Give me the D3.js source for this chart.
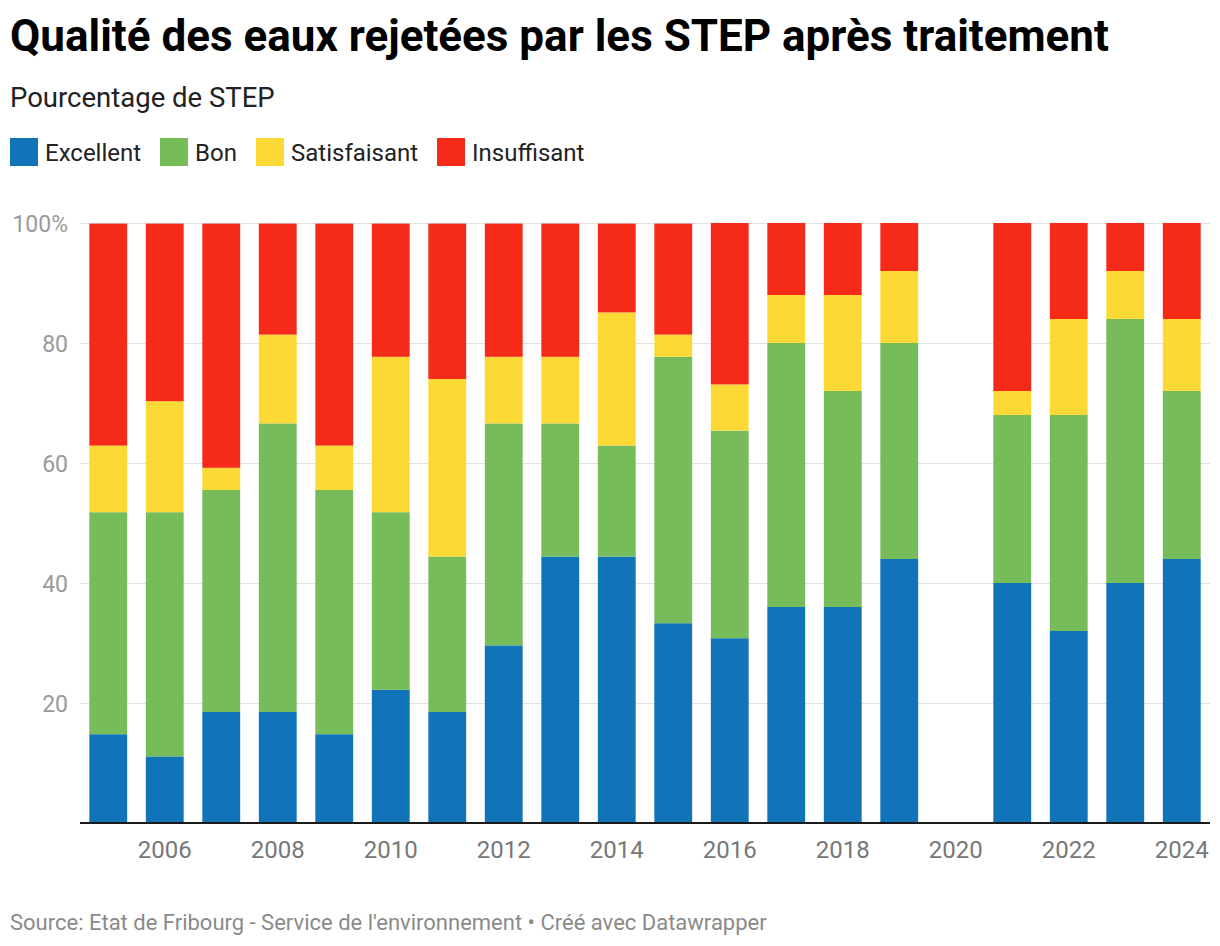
<!DOCTYPE html>
<html>
<head>
<meta charset="utf-8">
<script src="https://cdn.jsdelivr.net/npm/d3@7"></script>
<style>
  body { margin: 0; background: #fff; font-family: Roboto, sans-serif; }
  .tick text { font-family: Roboto, sans-serif; }
</style>
</head>
<body>
<div id="chart"></div>
<script>
// Data (percent of STEP per year, 2020 has no data)
var years = [2005, 2006, 2007, 2008, 2009, 2010, 2011, 2012, 2013, 2014,
             2015, 2016, 2017, 2018, 2019, 2020, 2021, 2022, 2023, 2024];
var categories = ["Excellent", "Bon", "Satisfaisant", "Insuffisant"];
var excellent = [14.8, 11.1, 18.5, 18.5, 14.8, 22.2, 18.5, 29.6, 44.4, 44.4,
                 33.3, 30.8, 36, 36, 44, null, 40, 32, 40, 44];
var bon = [37.0, 40.7, 37.0, 48.1, 40.7, 29.6, 25.9, 37.0, 22.2, 18.5,
           44.4, 34.6, 44, 36, 36, null, 28, 36, 44, 28];
var satisfaisant = [11.1, 18.5, 3.7, 14.8, 7.4, 25.9, 29.6, 11.1, 11.1, 22.2,
                    3.7, 7.7, 8, 16, 12, null, 4, 16, 8, 12];
var insuffisant = [37.0, 29.6, 40.7, 18.5, 37.0, 22.2, 25.9, 22.2, 22.2, 14.8,
                   18.5, 26.9, 12, 12, 8, null, 28, 16, 8, 16];
var yTicks = [20, 40, 60, 80, 100];
var xTicks = [2006, 2008, 2010, 2012, 2014, 2016, 2018, 2020, 2022, 2024];
var colors = ["#1174b9", "#76bc5a", "#fcd935", "#f52a18"];

var width = 1220, height = 946;
var svg = d3.select("#chart").append("svg")
    .attr("width", width)
    .attr("height", height);

// Title block
svg.append("text")
    .attr("x", 10).attr("y", 51)
    .attr("font-size", 44).attr("font-weight", "bold")
    .attr("fill", "#000")
    .text("Qualité des eaux rejetées par les STEP après traitement");

svg.append("text")
    .attr("x", 10).attr("y", 107)
    .attr("font-size", 27.5).attr("fill", "#222")
    .text("Pourcentage de STEP");

// Legend
var legendX = [10, 160, 256, 437];
var legend = svg.selectAll(".legend")
    .data(categories)
    .enter().append("g")
    .attr("class", "legend")
    .attr("transform", function (d, i) { return "translate(" + legendX[i] + ",138)"; });
legend.append("rect")
    .attr("width", 28).attr("height", 28)
    .attr("fill", function (d, i) { return colors[i]; });
legend.append("text")
    .attr("x", 35).attr("y", 23)
    .attr("font-size", 24).attr("fill", "#222")
    .text(function (d) { return d; });

// Scales
var x = d3.scaleBand().domain(years).range([80, 1210]).paddingInner(0.33).paddingOuter(0.165);
var y = d3.scaleLinear().domain([0, 100]).range([823, 223]);

// Grid + y labels
var yAxis = svg.append("g")
    .attr("transform", "translate(80,0)")
    .call(d3.axisLeft(y).tickValues(yTicks).tickSize(-1130)
        .tickFormat(function (d) { return d === 100 ? "100%" : d; }));
yAxis.select(".domain").remove();
yAxis.selectAll(".tick line").attr("stroke", "#e2e2e2").attr("stroke-width", 1);
yAxis.selectAll(".tick text")
    .attr("x", -12).attr("dy", "0.35em")
    .attr("font-size", 23).attr("fill", "#9a9a9a");

// Stacked bars
var rows = years.map(function (yr, i) {
    return { year: yr, Excellent: excellent[i], Bon: bon[i],
             Satisfaisant: satisfaisant[i], Insuffisant: insuffisant[i] };
}).filter(function (r) { return r.Excellent !== null; });

var stack = d3.stack().keys(categories);
var series = stack(rows);

svg.append("g").selectAll("g")
    .data(series)
    .enter().append("g")
    .attr("fill", function (d, i) { return colors[i]; })
    .selectAll("rect")
    .data(function (d) { return d; })
    .enter().append("rect")
    .attr("x", function (d) { return x(d.data.year); })
    .attr("width", x.bandwidth())
    .attr("y", function (d) { return y(d[1]); })
    .attr("height", function (d) { return y(d[0]) - y(d[1]); });

// X axis
var xAxis = svg.append("g")
    .attr("transform", "translate(0,823)")
    .call(d3.axisBottom(x).tickValues(xTicks).tickSize(0));
xAxis.select(".domain").attr("stroke", "#1a1a1a").attr("stroke-width", 2)
    .attr("d", "M80,0H1210");
xAxis.selectAll(".tick text")
    .attr("y", 35).attr("dy", 0)
    .attr("font-size", 24).attr("fill", "#777");

// Footer
svg.append("text")
    .attr("x", 10).attr("y", 930)
    .attr("font-size", 22).attr("fill", "#8a8a8a")
    .text("Source: Etat de Fribourg - Service de l'environnement \u2022 Créé avec Datawrapper");
</script>
</body>
</html>
